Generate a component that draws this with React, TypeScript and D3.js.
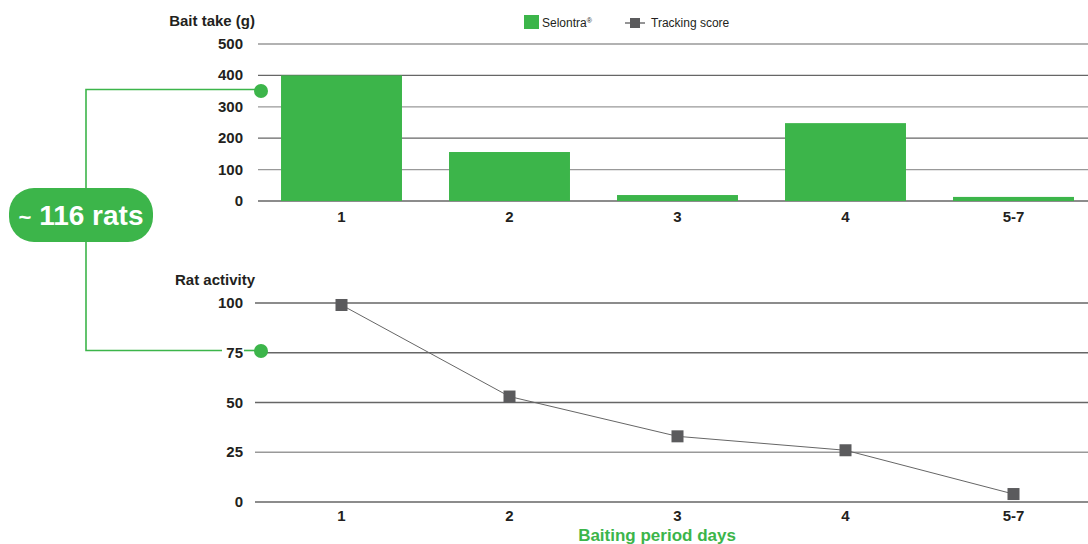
import React from "react";
import * as d3 from "d3";

const days = ["1", "2", "3", "4", "5-7"];
const baitTake = [400, 156, 19, 248, 13];
const trackingScore = [99, 53, 33, 26, 4];
const baitTicks = [0, 100, 200, 300, 400, 500];
const activityTicks = [0, 25, 50, 75, 100];

const W = 1088;
const H = 544;
const GREEN = "#3cb54a";
const TEXT = "#231f20";
const FONT = "'Liberation Sans', Arial, Helvetica, sans-serif";

export default function App() {
  const x = d3
    .scaleBand<string>()
    .domain(days)
    .range([257.5, 1097.5])
    .paddingInner(0.28)
    .paddingOuter(0.14);
  const yTop = d3.scaleLinear().domain([0, 500]).range([201, 44]);
  const yBot = d3.scaleLinear().domain([0, 100]).range([502, 303]);
  const cx = (d: string) => (x(d) as number) + x.bandwidth() / 2;

  const line = d3
    .line<number>()
    .x((_, i) => cx(days[i]))
    .y((v) => yBot(v));

  return (
    <svg
      width={W}
      height={H}
      style={{ position: "absolute", left: 0, top: 0, background: "#fff" }}
      fontFamily={FONT}
    >
      {/* Top chart */}
      <text x={255} y={26} textAnchor="end" fontSize={15} fontWeight="bold" fill={TEXT}>
        Bait take (g)
      </text>
      {baitTicks.map((t) => (
        <g key={"bt" + t}>
          <line x1={258} x2={W} y1={yTop(t)} y2={yTop(t)} stroke={t % 200 === 0 ? "#666" : "#999"} strokeWidth={1.3} />
          <text x={243} y={yTop(t) + 5} textAnchor="end" fontSize={15} fontWeight="bold" fill={TEXT}>
            {t}
          </text>
        </g>
      ))}
      {days.map((d, i) => (
        <g key={"bar" + d}>
          <rect
            x={x(d)}
            y={yTop(baitTake[i])}
            width={x.bandwidth()}
            height={yTop(0) - yTop(baitTake[i])}
            fill={GREEN}
          />
          <text x={cx(d)} y={222} textAnchor="middle" fontSize={15} fontWeight="bold" fill={TEXT}>
            {d}
          </text>
        </g>
      ))}

      {/* Legend */}
      <rect x={524} y={15} width={15} height={14} fill={GREEN} />
      <text x={542} y={27} fontSize={12} fill={TEXT}>
        Selontra
        <tspan fontSize={7} dy={-4}>®</tspan>
      </text>
      <line x1={625} x2={645} y1={23} y2={23} stroke="#5b5b5d" strokeWidth={1.3} />
      <rect x={630} y={18} width={10} height={10} fill="#5b5b5d" />
      <text x={651} y={27} fontSize={12} fill={TEXT}>
        Tracking score
      </text>

      {/* Bottom chart */}
      <text x={255} y={285} textAnchor="end" fontSize={15} fontWeight="bold" fill={TEXT}>
        Rat activity
      </text>
      {activityTicks.map((t) => (
        <g key={"at" + t}>
          <line x1={255} x2={W} y1={yBot(t)} y2={yBot(t)} stroke={t === 25 ? "#999" : "#666"} strokeWidth={1.3} />
          <text x={243} y={yBot(t) + 5} textAnchor="end" fontSize={15} fontWeight="bold" fill={TEXT}>
            {t}
          </text>
        </g>
      ))}
      <path d={line(trackingScore) || ""} fill="none" stroke="#666" strokeWidth={1} />
      {days.map((d, i) => (
        <g key={"pt" + d}>
          <rect x={cx(d) - 6} y={yBot(trackingScore[i]) - 6} width={12} height={12} fill="#5b5b5d" />
          <text x={cx(d)} y={521} textAnchor="middle" fontSize={15} fontWeight="bold" fill={TEXT}>
            {d}
          </text>
        </g>
      ))}
      <text x={657} y={541} textAnchor="middle" fontSize={17} fontWeight="bold" fill={GREEN}>
        Baiting period days
      </text>

      {/* Callout */}
      <polyline points={`261,89.5 86,89.5 86,350.5 222,350.5`} fill="none" stroke={GREEN} strokeWidth={1.6} />
      <line x1={244} x2={262} y1={350.5} y2={350.5} stroke={GREEN} strokeWidth={1.6} />
      <circle cx={261} cy={91} r={7} fill={GREEN} />
      <circle cx={261} cy={351} r={7} fill={GREEN} />
      <rect x={9} y={188} width={144} height={54} rx={25} ry={25} fill={GREEN} />
      <text x={81} y={225} textAnchor="middle" fontSize={28} fontWeight="bold" fill="#fff">
        <tspan fontSize={22}>~</tspan> 116 rats
      </text>
    </svg>
  );
}
